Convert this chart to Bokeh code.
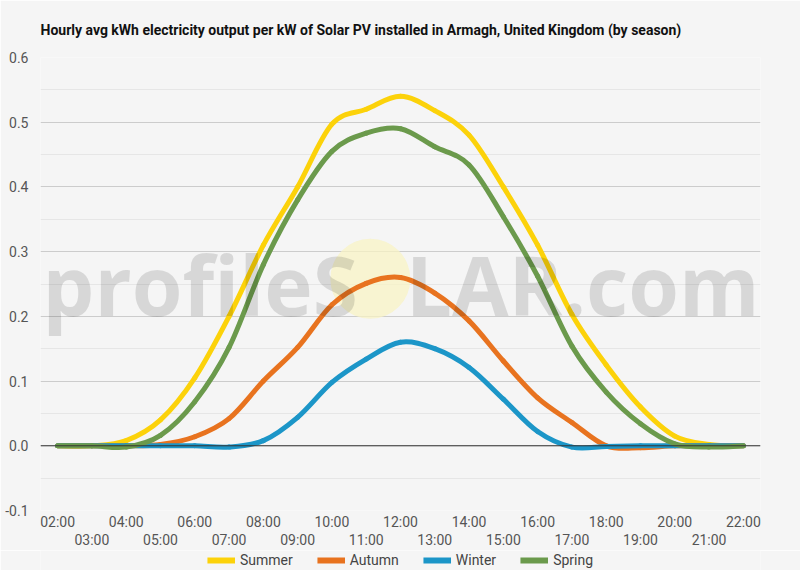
from bokeh.plotting import figure
from bokeh.layouts import column
from bokeh.models import (FixedTicker, LinearAxis, Legend, LegendItem, Label,
                          PrintfTickFormatter, Range1d, Span)
from bokeh.embed import file_html
from bokeh.resources import INLINE

# hourly averages, kWh per kW installed
hour_labels = ["02:00", "03:00", "04:00", "05:00", "06:00", "07:00", "08:00",
               "09:00", "10:00", "11:00", "12:00", "13:00", "14:00", "15:00",
               "16:00", "17:00", "18:00", "19:00", "20:00", "21:00", "22:00"]
summer = [0, 0, 0.008, 0.04, 0.105, 0.2, 0.31, 0.40, 0.497, 0.52, 0.54,
          0.518, 0.48, 0.40, 0.31, 0.203, 0.125, 0.06, 0.015, 0.002, 0]
autumn = [0, 0, 0, 0.002, 0.014, 0.042, 0.1, 0.152, 0.218, 0.251, 0.26,
          0.236, 0.193, 0.131, 0.074, 0.036, 0.0, -0.003, 0, 0, 0]
winter = [0, 0, 0, 0, 0, -0.002, 0.008, 0.044, 0.098, 0.134, 0.16,
          0.15, 0.121, 0.072, 0.022, -0.002, -0.001, 0, 0, 0, 0]
spring = [0, 0, -0.002, 0.016, 0.068, 0.152, 0.28, 0.38, 0.455, 0.483, 0.49,
          0.462, 0.434, 0.354, 0.262, 0.154, 0.083, 0.034, 0.003, -0.002, 0]

series = [("Summer", summer, "#fcd20a"),
          ("Autumn", autumn, "#e8731f"),
          ("Winter", winter, "#1c96c8"),
          ("Spring", spring, "#6b9a4c")]

y_ticks = [-0.1, 0.0, 0.1, 0.2, 0.3, 0.4, 0.5, 0.6]
y_minor = [-0.05, 0.05, 0.15, 0.25, 0.35, 0.45, 0.55]

hours = [int(h[:2]) for h in hour_labels]
FONT = "Roboto"
BG = "#f5f5f5"


def bezier_parts(xs, ys):
    # smooth curve through the points (catmull-rom -> cubic bezier)
    n = len(xs)
    out = dict(x0=[], y0=[], x1=[], y1=[], cx0=[], cy0=[], cx1=[], cy1=[])
    for i in range(n - 1):
        a = max(i - 1, 0)
        d = min(i + 2, n - 1)
        out["x0"].append(xs[i]); out["y0"].append(ys[i])
        out["x1"].append(xs[i + 1]); out["y1"].append(ys[i + 1])
        out["cx0"].append(xs[i] + (xs[i + 1] - xs[a]) / 6)
        out["cy0"].append(ys[i] + (ys[i + 1] - ys[a]) / 6)
        out["cx1"].append(xs[i + 1] - (xs[d] - xs[i]) / 6)
        out["cy1"].append(ys[i + 1] - (ys[d] - ys[i]) / 6)
    return out


p = figure(width=800, height=550, output_backend="svg", toolbar_location=None,
           x_range=Range1d(1.5, 22.5), y_range=Range1d(-0.1, 0.6),
           min_border_left=40, min_border_right=40,
           min_border_top=57, min_border_bottom=38,
           title="Hourly avg kWh electricity output per kW of Solar PV installed in Armagh, United Kingdom (by season)")
p.background_fill_color = BG
p.border_fill_color = BG
p.outline_line_color = None

p.title.text_font = FONT
p.title.text_font_size = "14px"
p.title.text_font_style = "bold"
p.title.text_color = "#111111"
p.title.align = "left"
p.title.standoff = 39

# y axis
p.yaxis.ticker = FixedTicker(ticks=y_ticks, minor_ticks=y_minor)
p.yaxis.formatter = PrintfTickFormatter(format="%.1f")
p.yaxis.axis_line_color = None
p.yaxis.major_tick_line_color = None
p.yaxis.minor_tick_line_color = None
p.yaxis.major_tick_out = 0
p.yaxis.major_label_standoff = 8
p.yaxis.major_label_text_font = FONT
p.yaxis.major_label_text_font_size = "14px"
p.yaxis.major_label_text_color = "#555555"

p.ygrid.grid_line_color = "#cccccc"
p.ygrid.minor_grid_line_color = "#e6e6e6"
p.xgrid.visible = False

# x axis: even hours on first row, odd hours on second row
even = [h for h in hours if h % 2 == 0]
odd = [h for h in hours if h % 2 == 1]
p.xaxis.ticker = FixedTicker(ticks=even)
p.xaxis.major_label_overrides = {h: lab for h, lab in zip(hours, hour_labels) if h % 2 == 0}
ax2 = LinearAxis(ticker=FixedTicker(ticks=odd),
                 major_label_overrides={h: lab for h, lab in zip(hours, hour_labels) if h % 2 == 1})
p.add_layout(ax2, "below")
for ax in (p.xaxis[0], ax2):
    ax.axis_line_color = None
    ax.major_tick_line_color = None
    ax.minor_tick_line_color = None
    ax.major_tick_out = 0
    ax.major_label_text_font = FONT
    ax.major_label_text_font_size = "14px"
    ax.major_label_text_color = "#555555"
p.xaxis[0].major_label_standoff = 3
ax2.major_label_standoff = -1

p.add_layout(Span(location=0, dimension="width", line_color="#333333", line_width=1))

# watermark sun behind the lines
p.scatter(x=[11.12], y=[0.258], size=80, fill_color="#f8f3c4", line_color=None, fill_alpha=0.75)

for name, vals, col in series:
    p.bezier(source=bezier_parts(hours, vals), x0="x0", y0="y0", x1="x1", y1="y1",
             cx0="cx0", cy0="cy0", cx1="cx1", cy1="cy1",
             line_color=col, line_width=5, line_cap="round")

# watermark text over everything (kept inside the frame)
for txt, xx in (("profileS", 1.56), ("LAR.com", 12.15)):
    p.add_layout(Label(x=xx, y=0.25, text=txt, text_font="Open Sans",
                       text_font_style="bold", text_font_size="82px", text_align="left",
                       text_color="#000000", text_alpha=0.12,
                       text_baseline="alphabetic", level="overlay"))

# legend strip underneath (a legend in a side panel collapses the frame here)
lf = figure(width=800, height=20, output_backend="svg", toolbar_location=None,
            x_range=Range1d(0, 1), y_range=Range1d(0, 1),
            x_axis_type=None, y_axis_type=None,
            min_border_left=0, min_border_right=0, min_border_top=0, min_border_bottom=0)
lf.background_fill_color = BG
lf.border_fill_color = BG
lf.outline_line_color = None
lf.grid.visible = False
items = []
for name, vals, col in series:
    # swatch renderer only; its points sit outside the strip's range
    r = lf.line(x=[0, 1], y=[-5, -5], line_color=col, line_width=6)
    items.append(LegendItem(label=name, renderers=[r]))
legend = Legend(items=items, orientation="horizontal", location="center",
                glyph_width=28, glyph_height=14, label_standoff=5, spacing=24,
                padding=0, margin=0, border_line_color=None, background_fill_alpha=0,
                label_text_font=FONT, label_text_font_size="14px", label_text_color="#444444")
lf.add_layout(legend)

page = column(p, lf, spacing=0)
open("out.html", "w").write(file_html(page, INLINE))
